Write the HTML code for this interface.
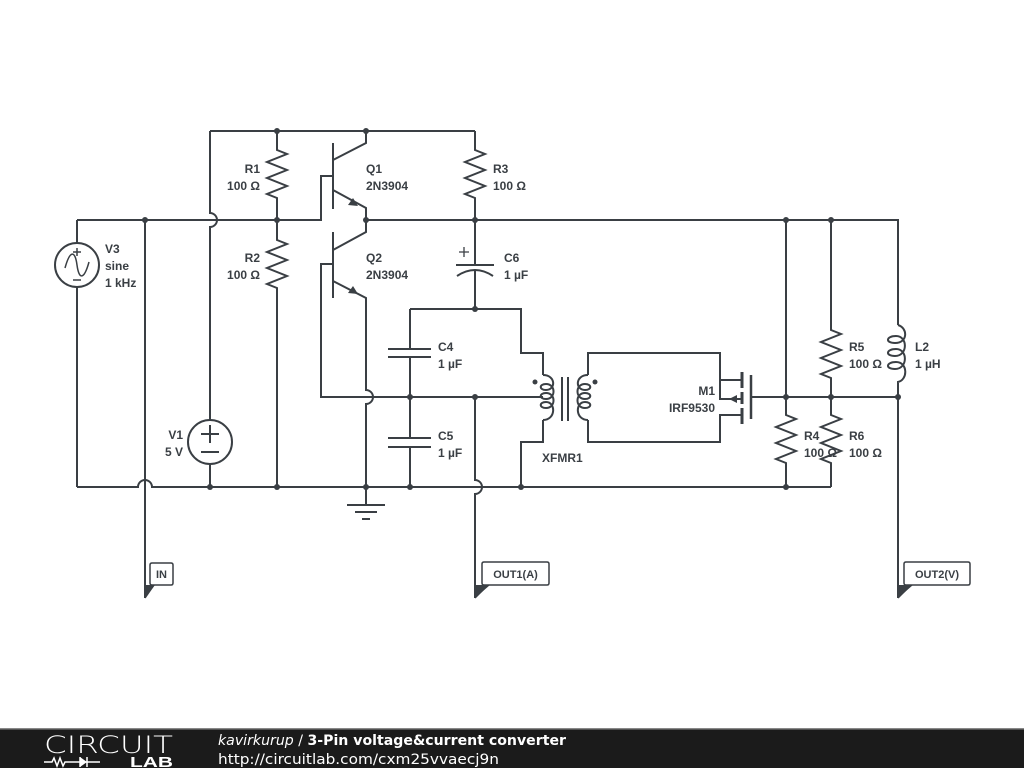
<!DOCTYPE html>
<html><head><meta charset="utf-8"><style>
html,body{margin:0;padding:0;background:#fff;width:1024px;height:768px;overflow:hidden}
svg{display:block}
text{font-family:"Liberation Sans",Arial,sans-serif;font-weight:bold;font-size:12px;fill:#3a3f44}
.ft{font-family:"DejaVu Sans","Liberation Sans",sans-serif;font-size:14px;fill:#fff;font-weight:normal}
</style></head><body>
<svg width="1024" height="768" viewBox="0 0 1024 768" xmlns="http://www.w3.org/2000/svg">
<g stroke="#3a3f44" stroke-width="2" fill="none" stroke-linejoin="miter">
<path d="M210 131 H475"/>
<path d="M210 131 V213 A7 7 0 0 1 210 227 V420"/>
<path d="M210 464 V487"/>
<path d="M77 220 H321 V176 H333"/>
<path d="M366 220 H898 V325"/>
<path d="M77 220 V243 M77 287 V487"/>
<circle cx="77" cy="265" r="22"/>
<path d="M65 268 C70 250 75 250 77 265 C79 280 84 280 89 262" stroke-width="1.5"/>
<path d="M73 252 H81 M77 248 V256 M73 280 H81" stroke-width="1.5"/>
<path d="M145 220 V598"/>
<path d="M77 487 H138 A7 7 0 0 1 152 487 H831"/>
<circle cx="210" cy="442" r="22"/>
<path d="M201 434 H219 M210 425 V443 M201 452 H219"/>
<path d="M277 131 V150 L287 154 L267 162 L287 170 L267 178 L287 186 L267 194 L277 198 V220"/>
<path d="M277 220 V240 L287 244 L267 252 L287 260 L267 268 L287 276 L267 284 L277 288 V487"/>
<path d="M475 131 V150 L485 154 L465 162 L485 170 L465 178 L485 186 L465 194 L475 198 V220"/>
<path d="M333 143 V209 M333 160 L366 143 V131 M333 190 L366 208 V220"/>
<path d="M333 232 V298 M333 250 L366 232 V220 M333 281 L366 298 V390 A7 7 0 0 1 366 404 V505"/>
<path d="M333 264 H321 V397 H543"/>
<path d="M347 505 H385 M355 512 H377 M362 519 H370"/>
<path d="M475 220 V265 M456 265 H494 M457 276 Q475 264 493 276 M475 270 V309"/>
<path d="M459 252 H469 M464 247 V257" stroke-width="1.3"/>
<path d="M410 309 H521 V353 H543 V375"/>
<path d="M410 309 V349 M388 349 H431 M388 357 H431 M410 357 V438 M388 438 H431 M388 447 H431 M410 447 V487"/>
<path d="M475 397 V480 A7 7 0 0 1 475 494 V598"/>
<path d="M543 375 C556 375 556 390 546 390 C539 390 539 384 546 384 C556 384 556 399 546 399 C539 399 539 393 546 393 C556 393 556 408 546 408 C539 408 539 402 546 402 C556 402 556 420 543 420"/>
<path d="M543 420 V442 H521 V487"/>
<path d="M562 377 V421 M568 377 V421"/>
<path d="M588 375 C575 375 575 390 585 390 C592 390 592 384 585 384 C575 384 575 399 585 399 C592 399 592 393 585 393 C575 393 575 408 585 408 C592 408 592 402 585 402 C575 402 575 420 588 420"/>
<path d="M588 375 V353 H720 V380 H742 M720 380 V399 H742 M588 420 V442 H720 V415 H742"/>
<path d="M742 372 V388 M742 392 V404 M742 408 V424" stroke-width="3"/>
<path d="M751 375 V419" stroke-width="2.5"/>
<path d="M751 397 H898 V598"/>
<path d="M786 220 V415 L796 419 L776 427 L796 435 L776 443 L796 451 L776 459 L786 463 V487"/>
<path d="M831 220 V330 L841 334 L821 342 L841 350 L821 358 L841 366 L821 374 L831 378 V397"/>
<path d="M831 397 V415 L841 419 L821 427 L841 435 L821 443 L841 451 L821 459 L831 463 V487"/>
<path d="M898 325 C908 328 908 343 895 343 C885 343 886 336 896 336 C908 336 908 356 895 356 C885 356 886 349 896 349 C908 349 908 369 895 369 C885 369 886 362 896 362 C908 362 908 380 898 382 V397"/>
<path d="M145 598 L154 585 M152 563 Q150 563 150 565 V583 Q150 585 152 585 H171 Q173 585 173 583 V565 Q173 563 171 563 Z" stroke-width="1.5"/>
<path d="M475 598 L488 585 M484 562 Q482 562 482 564 V583 Q482 585 484 585 H547 Q549 585 549 583 V564 Q549 562 547 562 Z" stroke-width="1.5"/>
<path d="M898 598 L911 585 M906 562 Q904 562 904 564 V583 Q904 585 906 585 H968 Q970 585 970 583 V564 Q970 562 968 562 Z" stroke-width="1.5"/>
</g>
<g fill="#3a3f44">
<polygon points="145,598 145,585 155,585"/>
<polygon points="475,598 475,585 490,585"/>
<polygon points="898,598 898,585 913,585"/>
<polygon points="358,206 348,205 353,198"/>
<polygon points="358,294 348,293 353,286"/>
<polygon points="729,399 737,395 737,403"/>
<circle cx="535" cy="382" r="2.5"/><circle cx="595" cy="382" r="2.5"/>
<circle cx="277" cy="131" r="3"/><circle cx="366" cy="131" r="3"/>
<circle cx="145" cy="220" r="3"/><circle cx="277" cy="220" r="3"/><circle cx="366" cy="220" r="3"/><circle cx="475" cy="220" r="3"/><circle cx="786" cy="220" r="3"/><circle cx="831" cy="220" r="3"/>
<circle cx="475" cy="309" r="3"/>
<circle cx="410" cy="397" r="3"/><circle cx="475" cy="397" r="3"/><circle cx="786" cy="397" r="3"/><circle cx="831" cy="397" r="3"/><circle cx="898" cy="397" r="3"/>
<circle cx="210" cy="487" r="3"/><circle cx="277" cy="487" r="3"/><circle cx="366" cy="487" r="3"/><circle cx="410" cy="487" r="3"/><circle cx="521" cy="487" r="3"/><circle cx="786" cy="487" r="3"/>
</g>
<text x="260" y="173" text-anchor="end">R1</text><text x="260" y="190" text-anchor="end">100 Ω</text>
<text x="260" y="262" text-anchor="end">R2</text><text x="260" y="279" text-anchor="end">100 Ω</text>
<text x="366" y="173">Q1</text><text x="366" y="190">2N3904</text>
<text x="366" y="262">Q2</text><text x="366" y="279">2N3904</text>
<text x="493" y="173">R3</text><text x="493" y="190">100 Ω</text>
<text x="105" y="253">V3</text><text x="105" y="270">sine</text><text x="105" y="287">1 kHz</text>
<text x="183" y="439" text-anchor="end">V1</text><text x="183" y="456" text-anchor="end">5 V</text>
<text x="504" y="262">C6</text><text x="504" y="279">1 µF</text>
<text x="438" y="351">C4</text><text x="438" y="368">1 µF</text>
<text x="438" y="440">C5</text><text x="438" y="457">1 µF</text>
<text x="542" y="462">XFMR1</text>
<text x="715" y="395" text-anchor="end">M1</text><text x="715" y="412" text-anchor="end">IRF9530</text>
<text x="804" y="440">R4</text><text x="804" y="457">100 Ω</text>
<text x="849" y="351">R5</text><text x="849" y="368">100 Ω</text>
<text x="849" y="440">R6</text><text x="849" y="457">100 Ω</text>
<text x="915" y="351">L2</text><text x="915" y="368">1 µH</text>
<text x="161.5" y="578" text-anchor="middle" style="font-size:11px">IN</text>
<text x="515.5" y="578" text-anchor="middle" style="font-size:11px">OUT1(A)</text>
<text x="937" y="578" text-anchor="middle" style="font-size:11px">OUT2(V)</text>
<rect x="0" y="729" width="1024" height="39" fill="#1b1b1b"/>
<rect x="0" y="728" width="1024" height="1.5" fill="#888"/>
<text x="44" y="753" textLength="129" lengthAdjust="spacingAndGlyphs" style="font-family:'DejaVu Sans',sans-serif;font-weight:200;font-size:24px;fill:#fff">CIRCUIT</text>
<path d="M44 762 H52 L54 758 L57 766 L60 758 L63 766 L65 762 H100 M87 757 V767 M80 757 V767" stroke="#fff" stroke-width="1.5" fill="none"/>
<polygon points="80,757 80,767 87,762" fill="#fff"/>
<text x="130" y="767" textLength="43" lengthAdjust="spacingAndGlyphs" style="font-size:15px;fill:#fff">LAB</text>
<text x="218" y="745" class="ft" textLength="348" lengthAdjust="spacingAndGlyphs"><tspan style="font-style:italic">kavirkurup</tspan><tspan> / </tspan><tspan style="font-weight:bold">3-Pin voltage&amp;current converter</tspan></text>
<text x="218" y="764" class="ft" textLength="281" lengthAdjust="spacingAndGlyphs">http://circuitlab.com/cxm25vvaecj9n</text>
</svg>
</body></html>
